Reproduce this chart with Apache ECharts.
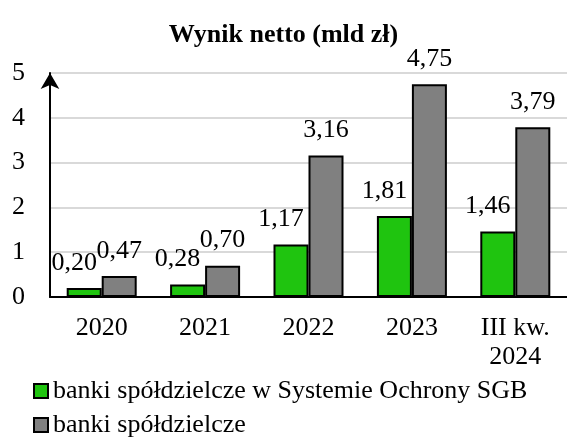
<!DOCTYPE html>
<html>
<head>
<meta charset="utf-8">
<script src="https://cdn.jsdelivr.net/npm/echarts@6/dist/echarts.min.js"></script>
<style>
  html, body { margin: 0; padding: 0; background: #fff; }
  #chart { width: 567px; height: 437px; }
</style>
</head>
<body>
<div id="chart"></div>
<script>
// dane z wykresu
const categories = ['2020', '2021', '2022', '2023', 'III kw.\n2024']
const sgbValues = [0.20, 0.28, 1.17, 1.81, 1.46]
const allValues = [0.47, 0.70, 3.16, 4.75, 3.79]
const seriesNames = ['banki spółdzielcze w Systemie Ochrony SGB', 'banki spółdzielcze']

const font = "'Liberation Serif', 'Times New Roman', serif"
const fs = 26

const chart = echarts.init(document.getElementById('chart'))

const labelFmt = p => p.value.toFixed(2).replace('.', ',')

function legendRow(name, top) {
  return {
    left: 33,
    top: top,
    padding: 0,
    itemWidth: 14,
    itemHeight: 14,
    itemGap: 0,
    icon: 'rect',
    itemStyle: { borderColor: '#000', borderWidth: 2 },
    textStyle: {
      fontFamily: font,
      fontSize: fs,
      lineHeight: 26,
      color: '#000'
    },
    data: [name]
  }
}

chart.setOption({
  animation: false,
  backgroundColor: '#fff',
  title: {
    text: 'Wynik netto (mld zł)',
    left: 'center',
    top: 17,
    textStyle: {
      fontFamily: font,
      fontSize: fs,
      fontWeight: 'bold',
      color: '#000'
    }
  },
  legend: [
    legendRow(seriesNames[0], 378),
    legendRow(seriesNames[1], 412)
  ],
  grid: {
    left: 50,
    right: -3,
    top: 73,
    bottom: 140,
    containLabel: false
  },
  xAxis: {
    type: 'category',
    data: categories,
    axisLine: {
      lineStyle: { color: '#000', width: 2 }
    },
    axisTick: {
      length: 6,
      lineStyle: { color: '#000', width: 2 }
    },
    axisLabel: {
      fontFamily: font,
      fontSize: fs,
      lineHeight: 29,
      color: '#000',
      margin: 17,
      interval: 0
    }
  },
  yAxis: {
    type: 'value',
    min: 0,
    max: 5,
    interval: 1,
    axisLine: {
      show: true,
      symbol: ['none', 'arrow'],
      symbolSize: [14, 16],
      symbolOffset: [0, 0],
      lineStyle: { color: '#000', width: 2 }
    },
    axisTick: { show: false },
    axisLabel: {
      fontFamily: font,
      fontSize: fs,
      color: '#000',
      margin: 25
    },
    splitLine: {
      lineStyle: { color: '#d9d9d9', width: 2 }
    }
  },
  series: [
    {
      name: seriesNames[0],
      type: 'bar',
      data: sgbValues,
      barWidth: 35,
      barGap: '0%',
      itemStyle: {
        color: '#1fc40f',
        borderColor: '#000',
        borderWidth: 2
      },
      label: {
        show: true,
        position: 'top',
        distance: 12,
        offset: [-10, 0],
        formatter: labelFmt,
        fontFamily: font,
        fontSize: fs,
        color: '#000'
      }
    },
    {
      name: seriesNames[1],
      type: 'bar',
      data: allValues,
      barWidth: 35,
      barGap: '0%',
      itemStyle: {
        color: '#808080',
        borderColor: '#000',
        borderWidth: 2
      },
      label: {
        show: true,
        position: 'top',
        distance: 12,
        formatter: labelFmt,
        fontFamily: font,
        fontSize: fs,
        color: '#000'
      }
    }
  ]
})
</script>
</body>
</html>
